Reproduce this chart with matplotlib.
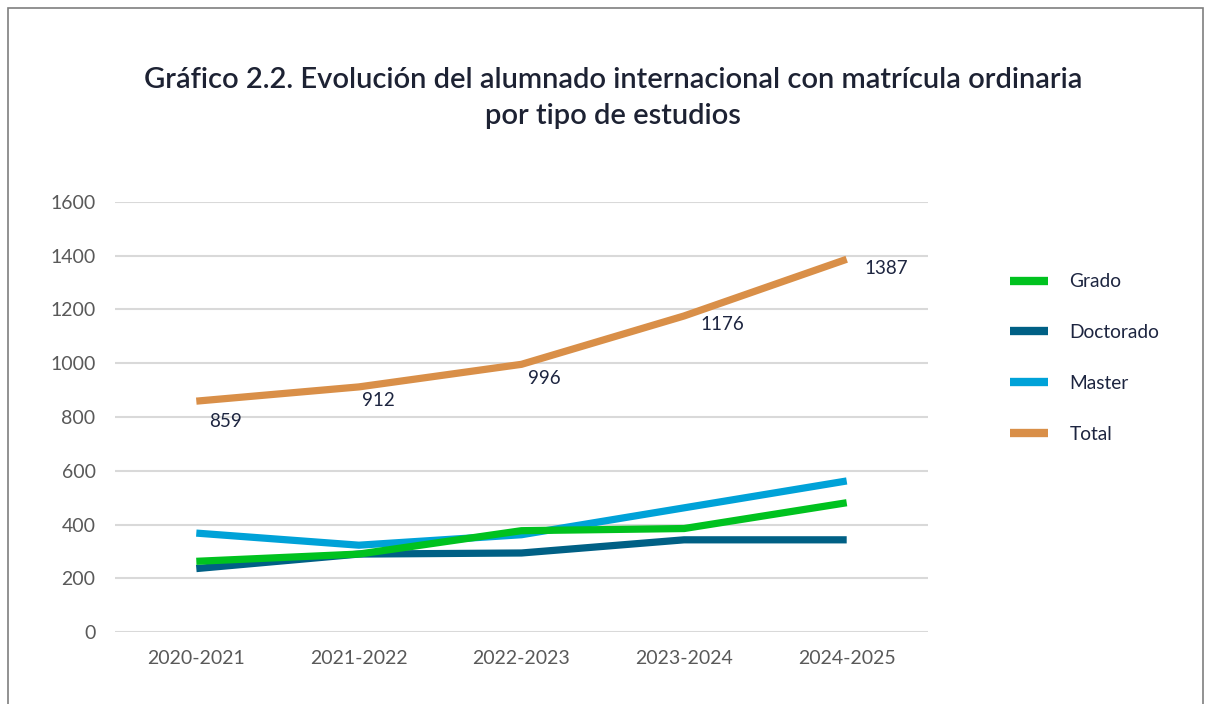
import matplotlib
matplotlib.use("Agg")
import matplotlib.pyplot as plt
from matplotlib.lines import Line2D
from matplotlib.patches import Rectangle

plt.rcParams['font.family'] = ['Lato', 'DejaVu Sans']

categories = ["2020-2021", "2021-2022", "2022-2023", "2023-2024", "2024-2025"]
grado = [263, 290, 377, 385, 481]
doctorado = [236, 290, 294, 343, 343]
master = [368, 323, 362, 462, 562]
total = [859, 912, 996, 1176, 1387]
total_labels = ["859", "912", "996", "1176", "1387"]
yticks = [0, 200, 400, 600, 800, 1000, 1200, 1400, 1600]

W, H = 1206, 704
fig = plt.figure(figsize=(W / 100, H / 100), dpi=100)
fig.patches.append(Rectangle((8 / W, -0.1), (1203 - 8) / W, 1.1 - 8 / H + 0.0,
                             transform=fig.transFigure, fill=False,
                             edgecolor='#7f7f7f', linewidth=1.2))

ax = fig.add_axes([115 / W, 1 - 632 / H, (928 - 115) / W, (632 - 202) / H])
x = list(range(len(categories)))
lw = 5.2
ax.plot(x, grado, color='#00c21f', lw=lw, solid_capstyle='butt', zorder=4, label='Grado')
ax.plot(x, doctorado, color='#006085', lw=lw, solid_capstyle='butt', zorder=3, label='Doctorado')
ax.plot(x, master, color='#00a2d8', lw=lw, solid_capstyle='butt', zorder=2, label='Master')
ax.plot(x, total, color='#d98f48', lw=lw, solid_capstyle='butt', zorder=2, label='Total')

offsets = [(9, -15), (2, -10), (5, -10), (12, -6), (13, -7)]
for i, (v, lab) in enumerate(zip(total, total_labels)):
    ax.annotate(lab, (x[i], v), xytext=offsets[i], textcoords='offset points',
                ha='left', va='center', fontsize=13.5, color='#1d2540')

ax.set_xlim(-0.5, len(categories) - 0.5)
ax.set_ylim(0, 1600)
ax.set_yticks(yticks)
ax.set_yticklabels([str(t) for t in yticks])
ax.set_xticks(x)
ax.set_xticklabels(categories)
ax.tick_params(axis='both', length=0, labelsize=14, colors='#595959')
ax.tick_params(axis='y', pad=14)
ax.tick_params(axis='x', pad=13)
for s in ax.spines.values():
    s.set_visible(False)
ax.grid(axis='y', color='#d9d9d9', lw=1.5)
ax.set_axisbelow(True)

fig.text(613 / W, 1 - 80 / H, "Gráfico 2.2. Evolución del alumnado internacional con matrícula ordinaria",
         ha='center', va='center', fontsize=21, fontweight='semibold', color='#1d2233')
fig.text(613 / W, 1 - 116 / H, "por tipo de estudios",
         ha='center', va='center', fontsize=21, fontweight='semibold', color='#1d2233')

handles = [Line2D([], [], color=c, lw=6, solid_capstyle='butt')
           for c in ['#00c21f', '#006085', '#00a2d8', '#d98f48']]
fig.legend(handles, ['Grado', 'Doctorado', 'Master', 'Total'],
           loc='upper left', bbox_to_anchor=(993 / W, 1 - 256 / H), frameon=False,
           fontsize=13.75, labelcolor='#1d2540', handlelength=2.0, handletextpad=1.1,
           labelspacing=1.78)

fig.savefig("out.png", dpi=100)
